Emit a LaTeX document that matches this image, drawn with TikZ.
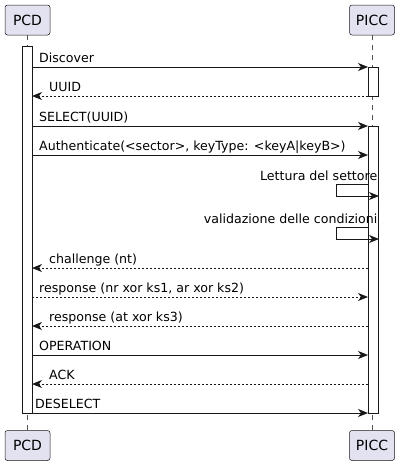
\documentclass[tikz,border=0pt]{standalone}
\usepackage{fontspec}
\setmainfont{DejaVu Sans}
\usetikzlibrary{arrows.meta}
\definecolor{plbox}{HTML}{E2E2F0}
\definecolor{plline}{HTML}{181818}
\begin{document}
\begin{tikzpicture}[x=1pt,y=-1pt,
 part/.style={draw=plline, fill=plbox, line width=0.5pt, rounded corners=2.5pt, minimum width=45pt, minimum height=30pt, inner sep=0pt, font=\fontsize{14}{16}\selectfont},
 life/.style={draw=plline!75, line width=0.5pt, dash pattern=on 5pt off 5pt},
 actbar/.style={draw=plline, fill=white, line width=1pt},
 msg/.style={draw=plline, line width=1pt, -{Stealth[length=10pt,width=8pt,inset=3pt]}},
 ret/.style={msg, dash pattern=on 2pt off 2pt},
 lbl/.style={font=\fontsize{12.6}{15}\selectfont, inner sep=0pt, anchor=base west},
 lblr/.style={lbl, anchor=base east}]
\useasboundingbox (0,0) rectangle (401,466);
% participants
\node[part] (pcdTop) at (27.5,20) {PCD};
\node[part] (piccTop) at (372,20) {PICC};
\node[part] (pcdBot) at (27.5,445.5) {PCD};
\node[part] (piccBot) at (372,445.5) {PICC};
% lifelines
\draw[life] (pcdTop.south) -- (pcdBot.north);
\draw[life] (piccTop.south) -- (piccBot.north);
% activation bars
\draw[actbar] (22,46.5) rectangle (32,413);
\draw[actbar] (368,67) rectangle (378,96);
\draw[actbar] (368,126) rectangle (378,413);
% message end points
\coordinate (a1) at (32,67);   \coordinate (b1) at (368,67);
\coordinate (a2) at (32,96);   \coordinate (b2) at (368,96);
\coordinate (a3) at (32,126);  \coordinate (b3) at (368,126);
\coordinate (a4) at (32,155);  \coordinate (b4) at (368,155);
\coordinate (s1a) at (368,184.5); \coordinate (s1c) at (336.5,184.5); \coordinate (s1d) at (336.5,196); \coordinate (s1b) at (379,196);
\coordinate (s2a) at (368,227.5); \coordinate (s2c) at (336.5,227.5); \coordinate (s2d) at (336.5,239); \coordinate (s2b) at (379,239);
\coordinate (a5) at (32,268);  \coordinate (b5) at (368,268);
\coordinate (a6) at (32,297);  \coordinate (b6) at (368,297);
\coordinate (a7) at (32,326);  \coordinate (b7) at (368,326);
\coordinate (a8) at (32,355);  \coordinate (b8) at (368,355);
\coordinate (a9) at (32,384);  \coordinate (b9) at (368,384);
\coordinate (a10) at (32,413); \coordinate (b10) at (368,413);
% messages
\draw[msg] (a1) -- (b1);
\node[lbl] (t1) at (39,62.5) {Discover};
\draw[ret] (b2) -- (a2);
\node[lbl] (t2) at (49,91.5) {UUID};
\draw[msg] (a3) -- (b3);
\node[lbl] (t3) at (39,121.5) {SELECT(UUID)};
\draw[msg] (a4) -- (b4);
\node[lbl] (t4) at (39,150.5) {Authenticate(<sector>, keyType: <keyA|keyB>)};
\draw[msg] (s1a) -- (s1c) -- (s1d) -- (s1b);
\node[lblr] (t5) at (377.5,180) {Lettura del settore};
\draw[msg] (s2a) -- (s2c) -- (s2d) -- (s2b);
\node[lblr] (t6) at (377.5,223) {validazione delle condizioni};
\draw[ret] (b5) -- (a5);
\node[lbl] (t7) at (49,263.5) {challenge (nt)};
\draw[ret] (a6) -- (b6);
\node[lbl] (t8) at (39,292.5) {response (nr xor ks1, ar xor ks2)};
\draw[ret] (b7) -- (a7);
\node[lbl] (t9) at (49,321.5) {response (at xor ks3)};
\draw[msg] (a8) -- (b8);
\node[lbl] (t10) at (39,350.5) {OPERATION};
\draw[ret] (b9) -- (a9);
\node[lbl] (t11) at (49,379.5) {ACK};
\draw[msg] (a10) -- (b10);
\node[lbl] (t12) at (35,408.5) {DESELECT};
\end{tikzpicture}
\end{document}
